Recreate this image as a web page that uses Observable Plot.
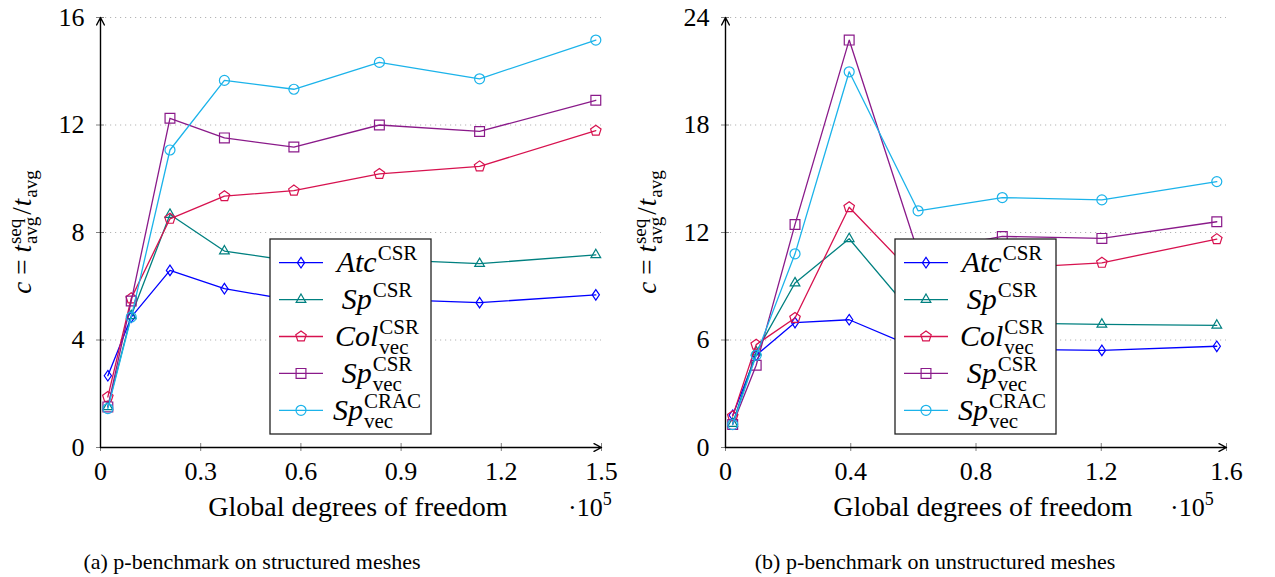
<!DOCTYPE html>
<html>
<head>
<meta charset="utf-8">
<script src="https://cdn.jsdelivr.net/npm/d3@7"></script>
<script src="https://cdn.jsdelivr.net/npm/@observablehq/plot@0.6"></script>
<style>
  html, body { margin: 0; padding: 0; background: #fff; }
  #wrap { position: relative; width: 1275px; height: 577px; overflow: hidden; font-family: "Liberation Serif", serif; }
  #wrap > svg { position: absolute; top: 0; }
  #wrap svg text { font-family: "Liberation Serif", serif; }
</style>
</head>
<body>
<div id="wrap"></div>
<script>
// ---------- data ----------
const seriesNames = ["Atc", "Sp", "Col", "SpVec", "SpCRAC"];
const seriesColors = ["#0000ff", "#008080", "#d7124f", "#8a1a8a", "#1bb3ea"];

// (a) structured meshes
const dofA = [0.022, 0.092, 0.208, 0.371, 0.579, 0.835, 1.135, 1.483];
const atcA = [2.67, 4.85, 6.59, 5.91, 5.47, 5.52, 5.39, 5.68];
const spA = [1.51, 4.90, 8.67, 7.31, 6.93, 7.00, 6.84, 7.17];
const colA = [1.88, 5.55, 8.51, 9.35, 9.56, 10.18, 10.46, 11.79];
const spVecA = [1.51, 5.45, 12.25, 11.52, 11.18, 12.00, 11.76, 12.92];
const spCracA = [1.45, 4.85, 11.07, 13.66, 13.33, 14.33, 13.72, 15.16];
const xTicksA = [0, 0.3, 0.6, 0.9, 1.2, 1.5];
const yTicksA = [0, 4, 8, 12, 16];

// (b) unstructured meshes
const dofB = [0.023, 0.098, 0.222, 0.395, 0.615, 0.884, 1.202, 1.569];
const atcB = [1.80, 5.15, 6.97, 7.13, 5.50, 5.48, 5.42, 5.65];
const spB = [1.34, 5.33, 9.18, 11.65, 7.10, 6.95, 6.87, 6.82];
const colB = [1.75, 5.74, 7.23, 13.41, 9.40, 10.00, 10.31, 11.63];
const spVecB = [1.28, 4.59, 12.45, 22.74, 10.90, 11.78, 11.67, 12.60];
const spCracB = [1.28, 5.15, 10.81, 20.97, 13.21, 13.95, 13.82, 14.84];
const xTicksB = [0, 0.4, 0.8, 1.2, 1.6];
const yTicksB = [0, 6, 12, 18, 24];

const captionA = "(a) p-benchmark on structured meshes";
const captionB = "(b) p-benchmark on unstructured meshes";
const xTitle = "Global degrees of freedom";

const FONT = '"Liberation Serif", serif';

// ---------- marker symbols (pgfplots-like, hollow) ----------
const unit = s => Math.sqrt(s / Math.PI) / 5;
const symDiamond = { draw(c, s) { const k = unit(s), w = 3.6 * k, h = 5.3 * k; c.moveTo(0, -h); c.lineTo(w, 0); c.lineTo(0, h); c.lineTo(-w, 0); c.closePath(); } };
const symTriangle = { draw(c, s) { const k = unit(s), r = 5.6 * k; for (let i = 0; i < 3; i++) { const a = -Math.PI / 2 + i * 2 * Math.PI / 3; const px = r * Math.cos(a), py = r * Math.sin(a); i ? c.lineTo(px, py) : c.moveTo(px, py); } c.closePath(); } };
const symPentagon = { draw(c, s) { const k = unit(s), r = 5.5 * k; for (let i = 0; i < 5; i++) { const a = -Math.PI / 2 + i * 2 * Math.PI / 5; const px = r * Math.cos(a), py = r * Math.sin(a); i ? c.lineTo(px, py) : c.moveTo(px, py); } c.closePath(); } };
const symSquare = { draw(c, s) { const k = unit(s), h = 4.9 * k; c.moveTo(-h, -h); c.lineTo(h, -h); c.lineTo(h, h); c.lineTo(-h, h); c.closePath(); } };
const symCircle = { draw(c, s) { const k = unit(s), r = 5 * k; c.moveTo(r, 0); c.arc(0, 0, r, 0, 2 * Math.PI); } };
const seriesSymbols = [symDiamond, symTriangle, symPentagon, symSquare, symCircle];

// ---------- math text helper ----------
function mathText(parent, pieces, anchor) {
  const g = parent.append("g");
  let cx = 0, prevStart = 0;
  for (const p of pieces) {
    if (p.gap !== undefined) { cx += p.gap; continue; }
    const sx = p.stack ? prevStart : cx;
    const t = g.append("text")
      .attr("x", sx).attr("y", p.shift || 0)
      .attr("text-anchor", "start")
      .attr("font-family", FONT)
      .attr("font-size", p.size)
      .attr("font-style", p.it ? "italic" : "normal")
      .attr("fill", "#000")
      .text(p.t);
    const w = t.node().getComputedTextLength();
    if (p.stack) cx = Math.max(cx, sx + w);
    else { prevStart = sx; cx = sx + w; }
  }
  const off = anchor === "middle" ? -cx / 2 : anchor === "end" ? -cx : 0;
  g.selectAll("text").attr("x", function () { return +this.getAttribute("x") + off; });
  return g;
}

const legendPieces = [
  [{ t: "Atc", it: true, size: 30 }, { gap: 1 }, { t: "CSR", size: 21, shift: -12 }],
  [{ t: "Sp", it: true, size: 30 }, { gap: 1 }, { t: "CSR", size: 21, shift: -12 }],
  [{ t: "Col", it: true, size: 30 }, { gap: 1 }, { t: "CSR", size: 21, shift: -12 }, { t: "vec", size: 21, shift: 8, stack: true }],
  [{ t: "Sp", it: true, size: 30 }, { gap: 1 }, { t: "CSR", size: 21, shift: -12 }, { t: "vec", size: 21, shift: 8, stack: true }],
  [{ t: "Sp", it: true, size: 30 }, { gap: 1 }, { t: "CRAC", size: 21, shift: -12 }, { t: "vec", size: 21, shift: 8, stack: true }]
];

const yLabelPieces = [
  { t: "c", it: true, size: 27 }, { gap: 7 }, { t: "=", size: 27 }, { gap: 7 },
  { t: "t", it: true, size: 27 }, { gap: 1 },
  { t: "seq", size: 19, shift: -10 }, { t: "avg", size: 19, shift: 6, stack: true },
  { gap: 2 }, { t: "/", size: 27 }, { gap: 1 },
  { t: "t", it: true, size: 27 }, { gap: 1 }, { t: "avg", size: 19, shift: 6 }
];

// ---------- chart builder ----------
function buildChart(cfg) {
  const rows = cfg.series.map(vals => vals.map((v, i) => ({ x: cfg.dof[i], y: v })));
  const xMax = cfg.xTicks[cfg.xTicks.length - 1];
  const yMax = cfg.yTicks[cfg.yTicks.length - 1];
  const marks = [
    Plot.gridY(cfg.yTicks.slice(1), { stroke: "#b4b4b4", strokeOpacity: 1, strokeWidth: 1.2, strokeDasharray: "1.2,3.8" }),
    Plot.axisX(cfg.xTicks, { anchor: "bottom", tickSize: 8, dy: -4, fill: "none", stroke: "#808080", strokeWidth: 1, label: null }),
    Plot.axisY(cfg.yTicks, { anchor: "left", tickSize: 8, dx: 4, fill: "none", stroke: "#808080", strokeWidth: 1, label: null }),
    Plot.axisX(cfg.xTicks, { anchor: "bottom", tickSize: 0, tickPadding: 14, stroke: "none", fill: "#000", fontSize: 26, fontFamily: FONT, tickFormat: d => String(d), label: null }),
    Plot.axisY(cfg.yTicks, { anchor: "left", tickSize: 0, tickPadding: 16, stroke: "none", fill: "#000", fontSize: 26, fontFamily: FONT, tickFormat: d => String(d), label: null }),
    Plot.arrow([{ x1: 0, y1: 0, x2: xMax, y2: 0 }], { x1: "x1", y1: "y1", x2: "x2", y2: "y2", stroke: "#000", strokeWidth: 1.4, headLength: 9, headAngle: 55 }),
    Plot.arrow([{ x1: 0, y1: 0, x2: 0, y2: yMax }], { x1: "x1", y1: "y1", x2: "x2", y2: "y2", stroke: "#000", strokeWidth: 1.4, headLength: 9, headAngle: 55 })
  ];
  rows.forEach((r, s) => {
    marks.push(Plot.line(r, { x: "x", y: "y", stroke: seriesColors[s], strokeWidth: 1.3 }));
    marks.push(Plot.dot(r, { x: "x", y: "y", stroke: seriesColors[s], fill: "none", strokeWidth: 1.2, r: 5, symbol: seriesSymbols[s] }));
  });
  const svg = Plot.plot({
    width: cfg.width, height: 577,
    marginLeft: 100, marginRight: cfg.marginRight, marginTop: 17, marginBottom: 130,
    x: { domain: [0, xMax], label: null },
    y: { domain: [0, yMax], label: null },
    style: { fontFamily: FONT, background: "transparent", color: "#000", overflow: "visible" },
    marks
  });
  svg.style.left = cfg.left + "px";
  svg.setAttribute("font-family", FONT);
  document.getElementById("wrap").appendChild(svg);
  const root = d3.select(svg);

  // y-axis title (rotated math)
  const yl = mathText(root, yLabelPieces, "middle");
  yl.attr("transform", "translate(31,232) rotate(-90)");

  // x-axis title and multiplier
  root.append("text").attr("x", 358).attr("y", 516).attr("text-anchor", "middle")
    .attr("font-family", FONT).attr("font-size", 28).attr("fill", "#000").text(xTitle);
  const mult = mathText(root, [{ t: "\u00b710", size: 26 }, { t: "5", size: 18, shift: -11 }], "start");
  mult.attr("transform", `translate(${cfg.multX},516)`);

  // caption
  root.append("text").attr("x", cfg.captionX).attr("y", 569).attr("text-anchor", "middle")
    .attr("font-family", FONT).attr("font-size", 22).attr("fill", "#000").text(cfg.caption);

  // legend
  const lg = root.append("g").attr("transform", "translate(270,239)");
  lg.append("rect").attr("width", 161).attr("height", 195).attr("fill", "#fff").attr("stroke", "#222").attr("stroke-width", 1.3);
  seriesNames.forEach((n, s) => {
    const yy = 23.7 + s * 36.9;
    lg.append("line").attr("x1", 9).attr("x2", 53).attr("y1", yy).attr("y2", yy)
      .attr("stroke", seriesColors[s]).attr("stroke-width", 1.3);
    lg.append("path").attr("transform", `translate(31,${yy})`)
      .attr("d", d3.symbol(seriesSymbols[s], 25 * Math.PI)())
      .attr("fill", "none").attr("stroke", seriesColors[s]).attr("stroke-width", 1.2);
    const t = mathText(lg, legendPieces[s], "middle");
    t.attr("transform", `translate(107,${yy + 9.5})`);
  });
  return svg;
}

buildChart({ left: 0, width: 625, marginRight: 24, dof: dofA, series: [atcA, spA, colA, spVecA, spCracA],
  xTicks: xTicksA, yTicks: yTicksA, multX: 568, caption: captionA, captionX: 252 });
buildChart({ left: 625, width: 650, marginRight: 49, dof: dofB, series: [atcB, spB, colB, spVecB, spCracB],
  xTicks: xTicksB, yTicks: yTicksB, multX: 545, caption: captionB, captionX: 310 });
</script>
</body>
</html>
